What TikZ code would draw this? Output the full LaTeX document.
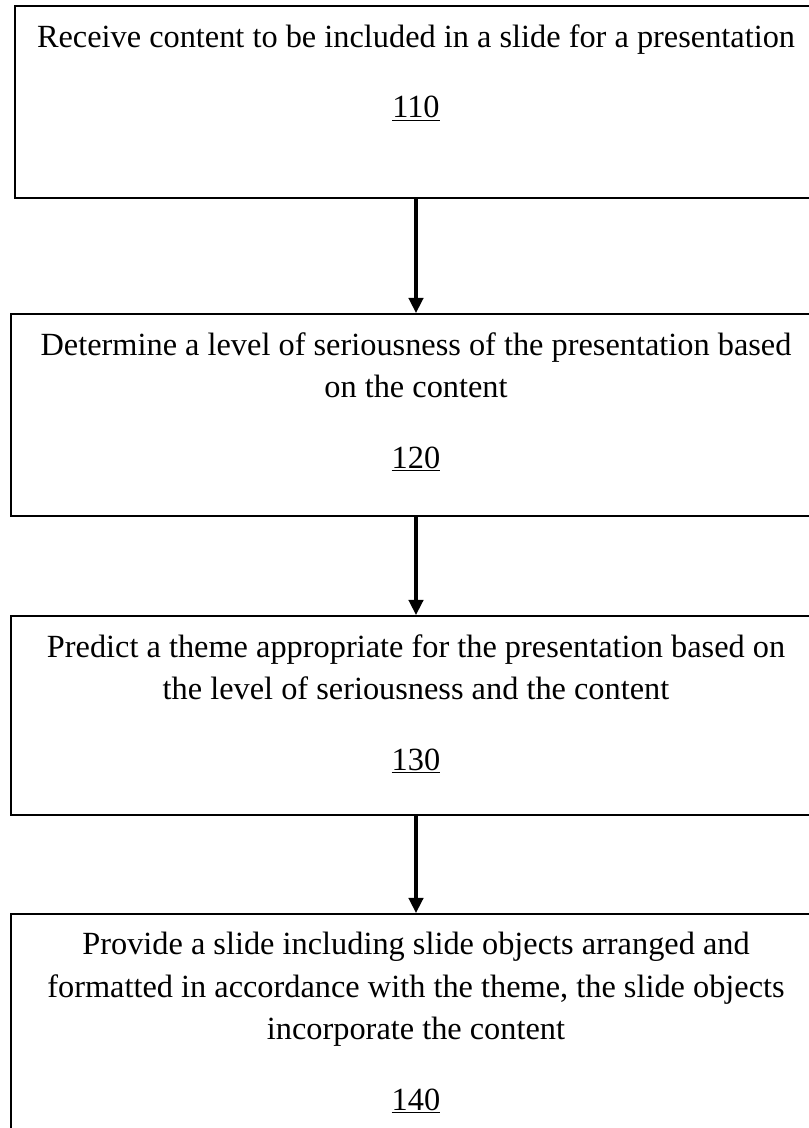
\documentclass[tikz,border=0pt]{standalone}
\usepackage{fontspec}
\setmainfont{Liberation Serif}
\usetikzlibrary{positioning, arrows.meta}

\begin{document}
\begin{tikzpicture}[x=0.025cm, y=-0.025cm,
        stepbox/.style={rectangle, draw, line width=1.3pt, inner sep=0pt},
        steptext/.style={align=center, inner sep=0pt, font=\fontsize{23}{30.2}\selectfont},
        flow/.style={-{Triangle[length=0.38cm, width=0.36cm]}, line width=2.4pt}]
        \useasboundingbox (0,0) rectangle (808,1128);

        % the four steps
        \node[stepbox, minimum width=20.05cm, minimum height=4.8cm] (b110) at (416, 102) {};
        \node[stepbox, minimum width=20.25cm, minimum height=5.05cm] (b120) at (416, 415) {};
        \node[stepbox, minimum width=20.25cm, minimum height=4.975cm] (b130) at (416, 715.5) {};
        \node[stepbox, minimum width=20.25cm, minimum height=5.65cm] (b140) at (416, 1027) {};

        \node[steptext, below=0.475cm of b110.north] (t110) {Receive content to be included in a slide for a presentation\\[20pt] \underline{110}};
        \node[steptext, below=0.475cm of b120.north] (t120) {Determine a level of seriousness of the presentation based\\ on the content\\[20pt] \underline{120}};
        \node[steptext, below=0.475cm of b130.north] (t130) {Predict a theme appropriate for the presentation based on\\ the level of seriousness and the content\\[20pt] \underline{130}};
        \node[steptext, below=0.475cm of b140.north] (t140) {Provide a slide including slide objects arranged and\\ formatted in accordance with the theme, the slide objects\\ incorporate the content\\[20pt] \underline{140}};

        \draw[flow] (b110) -- (b120);
        \draw[flow] (b120) -- (b130);
        \draw[flow] (b130) -- (b140);
    \end{tikzpicture}
\end{document}
